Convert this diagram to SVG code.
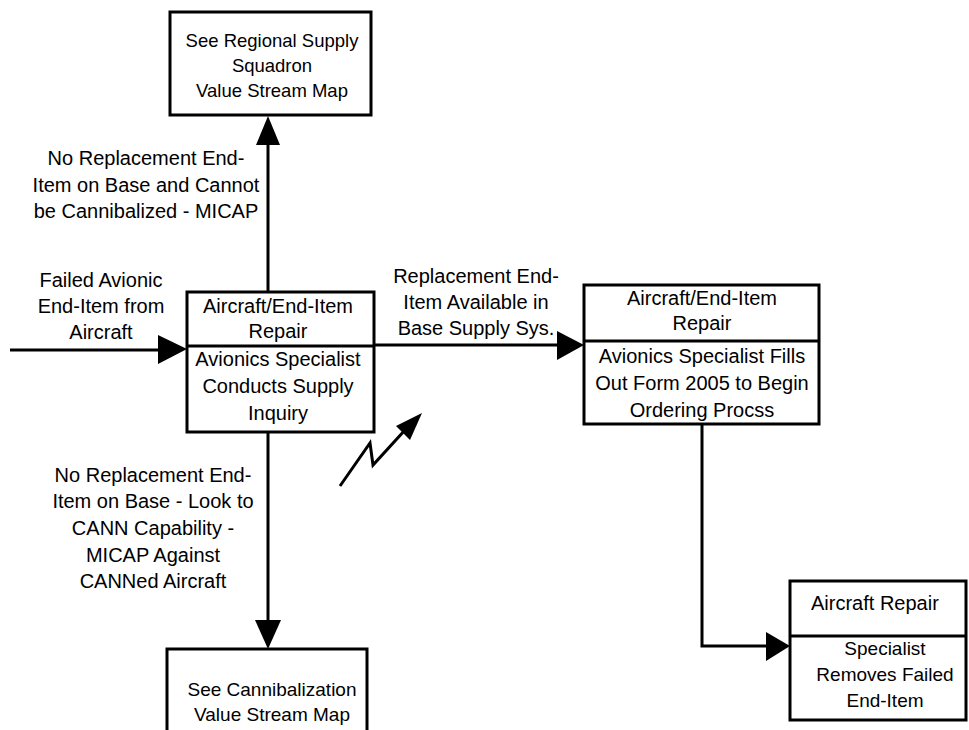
<svg xmlns="http://www.w3.org/2000/svg" width="969" height="730" viewBox="0 0 969 730">
<style>
.box{fill:#fff;stroke:#000;stroke-width:3}
.div{stroke:#000;stroke-width:3}
.ln{fill:none;stroke:#000;stroke-width:3}
text{font-family:"Liberation Sans",Arial,sans-serif;font-size:20px;fill:#000;text-anchor:middle}
.l{text-anchor:start}
.s{font-size:18.5px}
.m{font-size:19px}
</style>
<g id="connectors">
<path class="ln" d="M268,291 V145"/><path d="M268,116 L256,145 L280,145 Z"/>
<path class="ln" d="M10,350 H160"/><path d="M187,349 L158,335 L158,364 Z"/>
<path class="ln" d="M374,345 H558"/><path d="M584,345 L557,331 L557,360 Z"/>
<path class="ln" d="M268,433 V622"/><path d="M268,649 L255,620 L281,620 Z"/>
<path class="ln" d="M702,425 V646 H768"/><path d="M790,646 L766,632 L766,661 Z"/>
<path class="ln" d="M340,486 L370,443 L373,465 L405,430"/><path d="M422,413 L396,426 L410,440 Z"/>
</g>
<g id="n-regional">
<rect class="box" x="170" y="12" width="201" height="103"/>
<text class="s" x="272" y="47">See Regional Supply</text>
<text class="s" x="272" y="72">Squadron</text>
<text class="s" x="272" y="97">Value Stream Map</text>
</g>
<g id="n-inquiry">
<rect class="box" x="187" y="292" width="187" height="140"/>
<line class="div" x1="187" y1="346" x2="374" y2="346"/>
<text x="278" y="313">Aircraft/End-Item</text>
<text x="278" y="338">Repair</text>
<text x="278" y="366">Avionics Specialist</text>
<text x="278" y="393">Conducts Supply</text>
<text x="278" y="420">Inquiry</text>
</g>
<g id="n-order">
<rect class="box" x="584" y="285" width="235" height="139"/>
<line class="div" x1="584" y1="341" x2="819" y2="341"/>
<text x="702" y="305">Aircraft/End-Item</text>
<text x="702" y="330">Repair</text>
<text x="702" y="363">Avionics Specialist Fills</text>
<text x="702" y="390">Out Form 2005 to Begin</text>
<text x="702" y="417">Ordering Procss</text>
</g>
<g id="n-cann">
<rect class="box" x="167" y="649" width="200" height="90"/>
<text class="m" x="272" y="696">See Cannibalization</text>
<text class="m" x="272" y="721">Value Stream Map</text>
</g>
<g id="n-remove">
<rect class="box" x="790" y="581" width="176" height="139"/>
<line class="div" x1="790" y1="636" x2="966" y2="636"/>
<text class="l" x="811" y="610">Aircraft Repair</text>
<text class="m" x="885" y="655">Specialist</text>
<text class="m" x="885" y="681">Removes Failed</text>
<text class="m" x="885" y="707">End-Item</text>
</g>
<g id="labels">
<text x="146" y="165">No Replacement End-</text>
<text x="146" y="192">Item on Base and Cannot</text>
<text x="146" y="218">be Cannibalized - MICAP</text>
<text x="101" y="287">Failed Avionic</text>
<text x="101" y="313">End-Item from</text>
<text x="101" y="339">Aircraft</text>
<text x="476" y="283">Replacement End-</text>
<text x="476" y="309">Item Available in</text>
<text x="476" y="335">Base Supply Sys.</text>
<text x="153" y="482">No Replacement End-</text>
<text x="153" y="508">Item on Base - Look to</text>
<text x="153" y="535">CANN Capability -</text>
<text x="153" y="562">MICAP Against</text>
<text x="153" y="588">CANNed Aircraft</text>
</g>
</svg>
